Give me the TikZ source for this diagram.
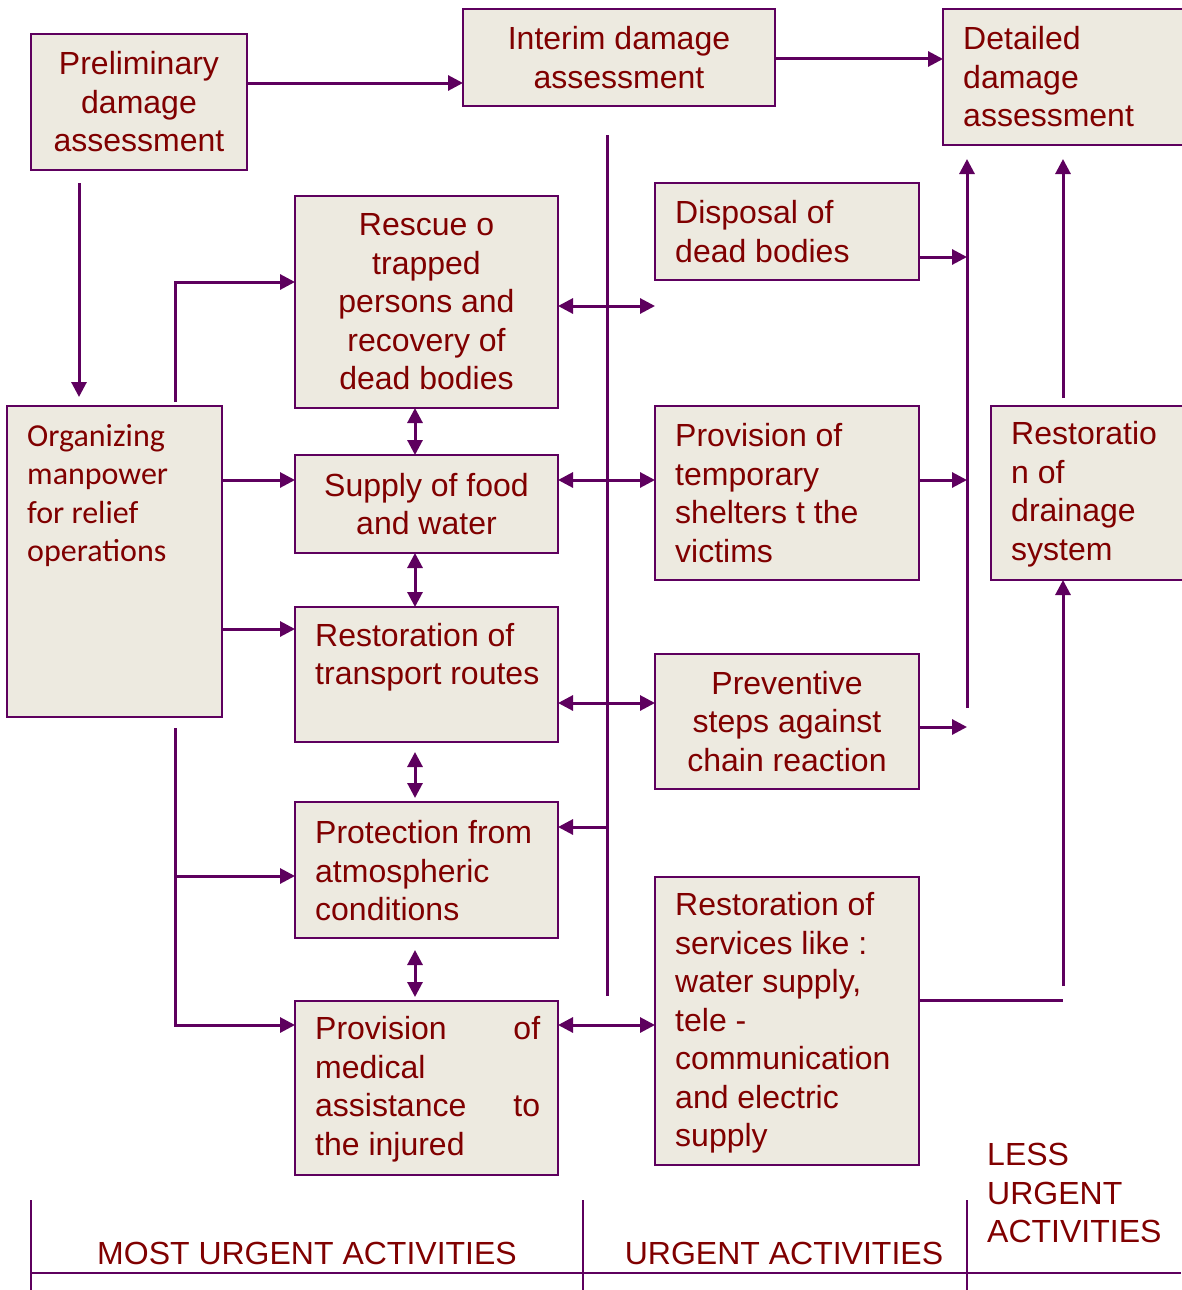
\documentclass[tikz,border=0pt]{standalone}
\usepackage{fontspec}
\setmainfont{Liberation Sans}
\newfontfamily\calib{Carlito}
\usetikzlibrary{arrows.meta}
\definecolor{txtred}{HTML}{800000}
\definecolor{linep}{HTML}{5E005E}
\definecolor{boxfill}{HTML}{EDEAE0}

\tikzset{
  box/.style={draw=linep, line width=2.5pt, fill=boxfill, rectangle, inner sep=0pt, outer sep=0pt, anchor=north west},
  txt/.style={text=txtred, font=\fontsize{32}{38.5}\selectfont, inner sep=0pt},
  conn/.style={draw=linep, line width=3pt},
  tip/.tip={Triangle[length=15pt,width=15pt]},
  arr/.style={conn, -tip},
  darr/.style={conn, tip-tip},
  rule/.style={draw=linep, line width=2.2pt},
}

\begin{document}
\begin{tikzpicture}[x=1pt,y=-1pt]
\useasboundingbox (0,0) rectangle (1181,1290);

% ---- boxes ----
\node[box, minimum width=216pt, minimum height=136pt] (prelim) at (31,34) {};
\node[box, minimum width=312pt, minimum height=97pt] (interim) at (463,9) {};
\node[box, minimum width=260pt, minimum height=136pt] (detail) at (943,9) {};
\node[box, minimum width=263pt, minimum height=212pt] (rescue) at (295,196) {};
\node[box, minimum width=264pt, minimum height=97pt] (disposal) at (655,183) {};
\node[box, minimum width=215pt, minimum height=311pt] (organ) at (7,406) {};
\node[box, minimum width=263pt, minimum height=98pt] (supply) at (295,455) {};
\node[box, minimum width=264pt, minimum height=174pt] (shelter) at (655,406) {};
\node[box, minimum width=210pt, minimum height=174pt] (drain) at (991,406) {};
\node[box, minimum width=263pt, minimum height=135pt] (transport) at (295,607) {};
\node[box, minimum width=264pt, minimum height=135pt] (prevent) at (655,654) {};
\node[box, minimum width=263pt, minimum height=136pt] (protect) at (295,802) {};
\node[box, minimum width=264pt, minimum height=288pt] (services) at (655,877) {};
\node[box, minimum width=263pt, minimum height=174pt] (medical) at (295,1001) {};

% ---- box texts ----
\node[txt, align=center] (prelimT) at (prelim.center) {Preliminary\\damage\\assessment};
\node[txt, align=center] (interimT) at (interim.center) {Interim damage\\assessment};
\node[txt, align=left, anchor=west] (detailT) at (963,77) {Detailed\\damage\\assessment};
\node[txt, align=center] (rescueT) at (rescue.center) {Rescue o\\trapped\\persons and\\recovery of\\dead bodies};
\node[txt, align=left, anchor=west] (disposalT) at (675,231.5) {Disposal of\\dead bodies};
\node[txt, align=left, anchor=west, font=\calib\fontsize{32}{38.5}\selectfont] (organT) at (27,495.5) {Organizing\\manpower\\for relief\\operations};
\node[txt, align=center] (supplyT) at (supply.center) {Supply of food\\and water};
\node[txt, align=left, anchor=west] (shelterT) at (675,493) {Provision of\\temporary\\shelters t the\\victims};
\node[txt, align=left, anchor=west] (drainT) at (1011,494) {Restoratio\\n of\\drainage\\system};
\node[txt, align=left, anchor=west] (transportT) at (315,657) {Restoration of\\transport routes};
\node[txt, align=center] (preventT) at (prevent.center) {Preventive\\steps against\\chain reaction};
\node[txt, align=left, anchor=west] (protectT) at (315,871) {Protection from\\atmospheric\\conditions};
\node[txt, align=left, anchor=west] (servicesT) at (675,1023) {Restoration of\\services like :\\water supply,\\tele -\\communication\\and electric\\supply};
\node[txt, align=left, anchor=west] (medicalT) at (315,1089) {\makebox[225pt][l]{Provision\hfill of}\\medical\\\makebox[225pt][l]{assistance\hfill to}\\the injured};

% ---- top row ----
\draw[arr] (prelim.east |- 0,83) -- (interim.west |- 0,83);
\draw[arr] (interim.east |- 0,59) -- (detail.west |- 0,59);
\draw[arr, shorten <=13pt, shorten >=9pt] (prelim.south -| 79,0) -- (organ.north -| 79,0);

% ---- central bus ----
\coordinate (busTop) at (607,135);
\coordinate (busBot) at (607,996);
\draw[conn] (busTop) -- (busBot);
\draw[arr] (busTop |- 0,827) -- (protect.east |- 0,827);

% ---- left column to middle column ----
\draw[darr] (rescue.east |- 0,306) -- (disposal.west |- 0,306);
\draw[darr] (supply.east |- 0,480) -- (shelter.west |- 0,480);
\draw[darr] (transport.east |- 0,703) -- (prevent.west |- 0,703);
\draw[darr] (medical.east |- 0,1025) -- (services.west |- 0,1025);

% ---- links within the left column ----
\draw[darr] (rescue.south -| 415,0) -- (supply.north -| 415,0);
\draw[darr] (supply.south -| 415,0) -- (transport.north -| 415,0);
\draw[darr, shorten <=10pt, shorten >=4pt] (transport.south -| 415,0) -- (protect.north -| 415,0);
\draw[darr, shorten <=12pt, shorten >=4pt] (protect.south -| 415,0) -- (medical.north -| 415,0);

% ---- manpower feeds ----
\coordinate (orgUp) at (175,402);
\coordinate (orgDown) at (175,728);
\draw[arr] (orgUp) |- (rescue.west |- 0,282);
\draw[arr] (organ.east |- 0,480) -- (supply.west |- 0,480);
\draw[arr] (organ.east |- 0,629) -- (transport.west |- 0,629);
\draw[arr] (orgDown) |- (medical.west |- 0,1025);
\draw[arr] (orgDown |- 0,876) -- (protect.west |- 0,876);

% ---- right bus to detailed assessment ----
\coordinate (rbusBot) at (967,708);
\draw[arr, shorten >=14pt] (rbusBot) -- (detail.south -| rbusBot);
\draw[arr] (disposal.east |- 0,257) -- (rbusBot |- 0,257);
\draw[arr] (shelter.east |- 0,480) -- (rbusBot |- 0,480);
\draw[arr] (prevent.east |- 0,727) -- (rbusBot |- 0,727);

% ---- drainage path ----
\draw[arr, shorten <=8pt, shorten >=14pt] (drain.north -| 1063,0) -- (detail.south -| 1063,0);
\coordinate (servJoin) at (1063,1000);
\coordinate (drainFeed) at (1063,986);
\draw[conn] (services.east |- servJoin) -- (servJoin);
\draw[arr] (drainFeed) -- (drain.south -| drainFeed);

% ---- urgency scale ----
\coordinate (s0) at (31,1200);
\coordinate (s1) at (583,1200);
\coordinate (s2) at (967,1200);
\coordinate (sEnd) at (1181,1273);
\draw[rule] (s0) -- (s0 |- 0,1290);
\draw[rule] (s1) -- (s1 |- 0,1290);
\draw[rule] (s2) -- (s2 |- 0,1290);
\draw[rule] (s0 |- sEnd) -- (sEnd);
\node[txt] (mostU) at (307,1253) {MOST URGENT ACTIVITIES};
\node[txt] (urgU) at (784,1253) {URGENT ACTIVITIES};
\node[txt, align=left, anchor=west] (lessU) at (987,1193) {LESS\\URGENT\\ACTIVITIES};
\end{tikzpicture}
\end{document}
